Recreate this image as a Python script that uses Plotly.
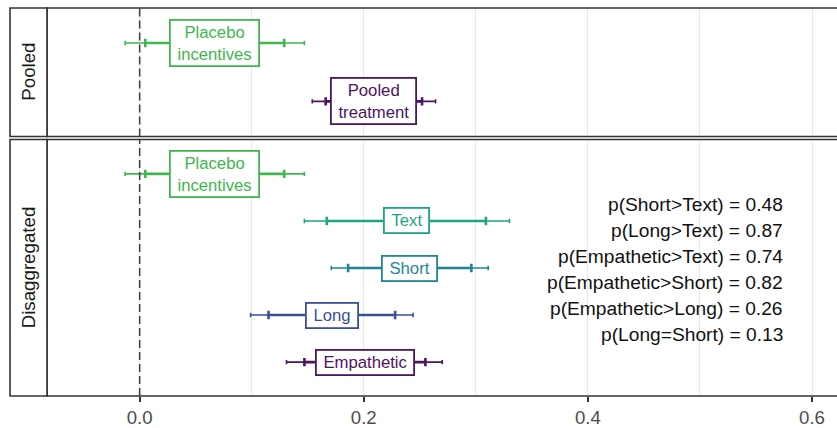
import plotly.graph_objects as go

# ---------------- data ----------------
pooled_cats = ["Placebo incentives", "Pooled treatment"]
pooled_labels = ["Placebo<br>incentives", "Pooled<br>treatment"]
pooled_est = [0.067, 0.209]
pooled_in_lo = [0.005, 0.166]
pooled_in_hi = [0.129, 0.252]
pooled_out_lo = [-0.013, 0.154]
pooled_out_hi = [0.147, 0.264]

disagg_cats = ["Placebo incentives", "Text", "Short", "Long", "Empathetic"]
disagg_labels = ["Placebo<br>incentives", "Text", "Short", "Long", "Empathetic"]
disagg_est = [0.067, 0.238, 0.241, 0.172, 0.201]
disagg_in_lo = [0.005, 0.167, 0.186, 0.115, 0.147]
disagg_in_hi = [0.129, 0.309, 0.296, 0.228, 0.255]
disagg_out_lo = [-0.013, 0.147, 0.171, 0.099, 0.131]
disagg_out_hi = [0.147, 0.330, 0.311, 0.244, 0.270]

p_texts = [
    "p(Short>Text) = 0.48",
    "p(Long>Text) = 0.87",
    "p(Empathetic>Text) = 0.74",
    "p(Empathetic>Short) = 0.82",
    "p(Empathetic>Long) = 0.26",
    "p(Long=Short) = 0.13",
]

x_ticks = [0.0, 0.2, 0.4, 0.6]
x_ticklabels = ["0.0", "0.2", "0.4", "0.6"]

# ---------------- styles ----------------
GREEN = "#40b64f"
TEAL = "#1fa386"
BLUEGREEN = "#1f8694"
BLUE = "#3b4f96"
PURPLE = "#4d1463"
pooled_colors = [GREEN, PURPLE]
disagg_colors = [GREEN, TEAL, BLUEGREEN, BLUE, PURPLE]

FONT = "Liberation Sans, Arial, sans-serif"
BORDER = "#333333"
GRID = "#e8e8e8"

fig = go.Figure()
annotations = []


def nb(s):
    return "<br>".join("\u00a0" + part + "\u00a0" for part in s.split("<br>"))


def add_panel(cats, labels, est, in_lo, in_hi, out_lo, out_hi, colors, xa, ya):
    for i, c in enumerate(cats):
        for lo, hi, th, w in ((out_lo, out_hi, 1.6, 2.2), (in_lo, in_hi, 2.6, 4.2)):
            fig.add_trace(go.Scatter(
                x=[est[i]], y=[c], xaxis=xa, yaxis=ya, mode="markers",
                marker=dict(size=1, opacity=0, color=colors[i]),
                error_x=dict(type="data", symmetric=False,
                             array=[hi[i] - est[i]], arrayminus=[est[i] - lo[i]],
                             color=colors[i], thickness=th, width=w),
                showlegend=False, hoverinfo="skip"))
        annotations.append(dict(
            x=est[i], y=c, xref=xa, yref=ya, text=nb(labels[i]), showarrow=False,
            xanchor="center", yanchor="middle",
            bgcolor="white", bordercolor=colors[i], borderwidth=1.8, borderpad=2,
            font=dict(family=FONT, size=16.7, color=colors[i])))


add_panel(pooled_cats, pooled_labels, pooled_est, pooled_in_lo, pooled_in_hi,
          pooled_out_lo, pooled_out_hi, pooled_colors, "x2", "y2")
add_panel(disagg_cats, disagg_labels, disagg_est, disagg_in_lo, disagg_in_hi,
          disagg_out_lo, disagg_out_hi, disagg_colors, "x", "y")

# p-value text block, centred near the middle category of the lower panel
n = len(p_texts)
for i, t in enumerate(p_texts):
    annotations.append(dict(
        x=0.5755, y=2.03 + (i - (n - 1) / 2) * 0.554, xref="x", yref="y",
        text=t, showarrow=False, xanchor="right", yanchor="middle",
        font=dict(family=FONT, size=19.2, color="#111111")))

TOP_DOM = [0.669, 1.0]
BOT_DOM = [0.0, 0.661]
STRIP_X0 = -0.0468

# strip labels
annotations.append(dict(x=STRIP_X0 / 2, y=sum(TOP_DOM) / 2, xref="paper", yref="paper",
                        text="Pooled", textangle=-90, showarrow=False,
                        xanchor="center", yanchor="middle",
                        font=dict(family=FONT, size=18.7, color="#1a1a1a")))
annotations.append(dict(x=STRIP_X0 / 2, y=sum(BOT_DOM) / 2, xref="paper", yref="paper",
                        text="Disaggregated", textangle=-90, showarrow=False,
                        xanchor="center", yanchor="middle",
                        font=dict(family=FONT, size=18.7, color="#1a1a1a")))

shapes = []
for ya in ("y", "y2"):
    shapes.append(dict(type="line", xref="x", yref=ya + " domain", x0=0, x1=0, y0=0, y1=1,
                       line=dict(color="#444444", width=1.6, dash="8px,4px"), layer="above"))
for dom in (TOP_DOM, BOT_DOM):
    shapes.append(dict(type="rect", xref="paper", yref="paper", x0=0, x1=1.05,
                       y0=dom[0], y1=dom[1], line=dict(color=BORDER, width=1.6),
                       fillcolor="rgba(0,0,0,0)", layer="above"))
    shapes.append(dict(type="rect", xref="paper", yref="paper", x0=STRIP_X0, x1=0,
                       y0=dom[0], y1=dom[1], line=dict(color=BORDER, width=1.6),
                       fillcolor="white", layer="above"))

xrange = [-0.0827, 0.6223]
common_x = dict(range=xrange, tickvals=x_ticks, ticktext=x_ticklabels,
                showgrid=True, gridcolor=GRID, gridwidth=1.4, zeroline=False, showline=False,
                minor=dict(dtick=0.1, tick0=0, showgrid=True, gridcolor=GRID, gridwidth=1.4))

fig.update_layout(
    width=837, height=428,
    margin=dict(l=47, r=0, t=8, b=28),
    paper_bgcolor="white", plot_bgcolor="white",
    font=dict(family=FONT),
    xaxis=dict(anchor="y", domain=[0, 1], ticks="outside", ticklen=5, tickwidth=1.5,
               tickcolor=BORDER, tickfont=dict(family=FONT, size=18.6, color="#4d4d4d"),
               **common_x),
    xaxis2=dict(anchor="y2", domain=[0, 1], matches="x", showticklabels=False, ticks="",
                **common_x),
    yaxis=dict(anchor="x", domain=BOT_DOM, type="category", categoryarray=disagg_cats,
               categoryorder="array", range=[4.72, -0.73], showticklabels=False,
               showgrid=False, zeroline=False, ticks=""),
    yaxis2=dict(anchor="x2", domain=TOP_DOM, type="category", categoryarray=pooled_cats,
                categoryorder="array", range=[1.6, -0.6], showticklabels=False,
                showgrid=False, zeroline=False, ticks=""),
    annotations=annotations,
    shapes=shapes,
)

fig.write_html(
    "out.html",
    config={"displayModeBar": False},
    post_script="document.body.style.margin='0px';document.body.style.padding='0px';"
                "document.documentElement.style.overflow='hidden';",
)
